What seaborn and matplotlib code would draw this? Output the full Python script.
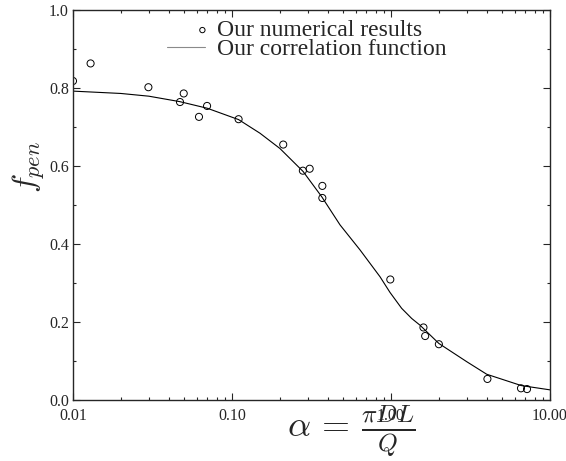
import matplotlib
matplotlib.use("Agg")
import matplotlib.pyplot as plt
import seaborn as sns
from matplotlib.ticker import FixedLocator, MultipleLocator, NullFormatter
from matplotlib.legend_handler import HandlerPathCollection

# numerical results
alpha_pts = [0.01, 0.0129, 0.0298, 0.0471, 0.0497, 0.062, 0.0697, 0.110,
             0.21, 0.279, 0.308, 0.370, 0.370, 0.99, 1.60, 1.64, 2.0,
             4.04, 6.57, 7.17]
fpen_pts = [0.818, 0.863, 0.802, 0.764, 0.786, 0.726, 0.754, 0.720,
            0.655, 0.588, 0.593, 0.549, 0.518, 0.309, 0.186, 0.164, 0.143,
            0.054, 0.030, 0.028]

# correlation function, sampled along the drawn curve
alpha_fit = [0.01, 0.02, 0.03, 0.047, 0.07, 0.11, 0.15, 0.20, 0.28, 0.367,
             0.478, 0.638, 0.853, 0.985, 1.167, 1.35, 1.52, 2.0, 3.0, 4.0,
             6.6, 10.0]
fpen_fit = [0.792, 0.786, 0.779, 0.765, 0.748, 0.719, 0.684, 0.645, 0.586,
            0.521, 0.449, 0.385, 0.316, 0.276, 0.235, 0.209, 0.192, 0.145,
            0.098, 0.066, 0.037, 0.026]

xticks = [0.01, 0.1, 1.0, 10.0]
xticklabels = ["0.01", "0.10", "1.00", "10.00"]
yticks = [0.0, 0.2, 0.4, 0.6, 0.8, 1.0]
yticklabels = ["0.0", "0.2", "0.4", "0.6", "0.8", "1.0"]


class RightMarker(HandlerPathCollection):
    # put the legend circle at the right end of the handle box
    def get_xdata(self, legend, xdescent, ydescent, width, height, fontsize):
        x = [-xdescent + width - 0.1 * fontsize]
        return x, x


sns.set_style("ticks")
plt.rcParams["font.family"] = ["Liberation Serif", "DejaVu Serif"]
plt.rcParams["mathtext.fontset"] = "cm"

fig = plt.figure(figsize=(5.66, 4.61), dpi=100)
ax = fig.add_axes([73 / 566, 61 / 461, 477 / 566, 390 / 461])

sns.lineplot(x=alpha_fit, y=fpen_fit, ax=ax, color="black", linewidth=0.8,
             estimator=None, sort=False, label="Our correlation function")
sns.scatterplot(x=alpha_pts, y=fpen_pts, ax=ax, marker="o", s=26,
                edgecolor="black", linewidth=0.7,
                label="Our numerical results")
pts = ax.collections[-1]
pts.set_facecolor("none")

ax.set_xscale("log")
ax.set_xlim(0.01, 10)
ax.set_ylim(0, 1.0)
ax.xaxis.set_major_locator(FixedLocator(xticks))
ax.set_xticklabels(xticklabels)
ax.xaxis.set_minor_formatter(NullFormatter())
ax.set_yticks(yticks)
ax.set_yticklabels(yticklabels)
ax.yaxis.set_minor_locator(MultipleLocator(0.1))

ax.tick_params(which="both", direction="in", top=True, right=True,
               labelsize=11.5, width=0.8)
ax.tick_params(which="major", length=5)
ax.tick_params(which="minor", length=2.5)
ax.tick_params(axis="x", pad=6)
ax.tick_params(axis="y", pad=3)
for s in ax.spines.values():
    s.set_linewidth(1.0)

ax.set_xlabel(r"$\alpha\, =\, \frac{\pi DL}{Q}$", fontsize=26)
ax.xaxis.set_label_coords(0.583, -0.01)
ax.set_ylabel(r"$f_{pen}$", fontsize=23)
ax.yaxis.set_label_coords(-0.055, 0.597)

h, l = ax.get_legend_handles_labels()
leg = ax.legend(h[::-1], l[::-1], loc="upper left",
                bbox_to_anchor=(0.197, 0.975), frameon=False, fontsize=17,
                handlelength=1.6, handletextpad=0.5, labelspacing=-0.12,
                borderpad=0, borderaxespad=0, markerscale=0.75,
                handler_map={pts: RightMarker()})
leg.get_lines()[0].set_color("#8a8a8a")

fig.savefig("out.png", dpi=100)
